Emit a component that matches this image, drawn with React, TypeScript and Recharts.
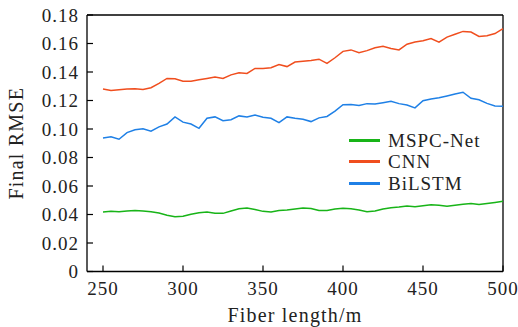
import React from 'react';
import { LineChart, Line, XAxis, YAxis, ReferenceLine } from 'recharts';

const fiberLength = [
  250, 255, 260, 265, 270, 275, 280, 285, 290, 295, 300, 305, 310, 315, 320, 325, 330,
  335, 340, 345, 350, 355, 360, 365, 370, 375, 380, 385, 390, 395, 400, 405, 410, 415,
  420, 425, 430, 435, 440, 445, 450, 455, 460, 465, 470, 475, 480, 485, 490, 495, 500,
];

const mspcNet = [
  0.0418, 0.0422, 0.042, 0.0425, 0.0428, 0.0425, 0.042, 0.041, 0.0395, 0.0385, 0.0388,
  0.0402, 0.0412, 0.0418, 0.0408, 0.0408, 0.0425, 0.044, 0.0445, 0.0435, 0.0422, 0.0418,
  0.0428, 0.0432, 0.0438, 0.0445, 0.0442, 0.0428, 0.0428, 0.0438, 0.0443, 0.044, 0.0432,
  0.042, 0.0425, 0.0438, 0.0447, 0.0452, 0.046, 0.0455, 0.0462, 0.0468, 0.0465, 0.0458,
  0.0465, 0.0472, 0.0478, 0.047, 0.0478, 0.0485, 0.0493,
];

const cnn = [
  0.128, 0.127, 0.1275, 0.128, 0.1282, 0.1278, 0.129, 0.132, 0.1355, 0.1352, 0.1335,
  0.1335, 0.1345, 0.1355, 0.1365, 0.1355, 0.138, 0.1395, 0.139, 0.1425, 0.1425, 0.143,
  0.1452, 0.1438, 0.147, 0.1475, 0.148, 0.149, 0.146, 0.15, 0.1545, 0.1555, 0.1535,
  0.155, 0.157, 0.158, 0.1565, 0.1555, 0.1595, 0.161, 0.162, 0.1635, 0.161, 0.1645,
  0.1665, 0.1685, 0.168, 0.165, 0.1655, 0.167, 0.1705,
];

const biLstm = [
  0.0937, 0.0945, 0.0928, 0.0975, 0.0995, 0.1002, 0.0985, 0.1015, 0.1035, 0.1085, 0.1048,
  0.1035, 0.1005, 0.1075, 0.1085, 0.1058, 0.1065, 0.1092, 0.1085, 0.1098, 0.1082, 0.1075,
  0.1045, 0.1085, 0.1075, 0.1068, 0.1052, 0.1078, 0.1088, 0.1125, 0.117, 0.1172, 0.1165,
  0.1178, 0.1175, 0.1185, 0.1195, 0.1178, 0.1168, 0.1148, 0.1198, 0.121, 0.122, 0.1232,
  0.1245, 0.1258, 0.1215, 0.1205, 0.118, 0.1162, 0.116,
];

const xTicks = [250, 300, 350, 400, 450, 500];
const yTicks = [0, 0.02, 0.04, 0.06, 0.08, 0.1, 0.12, 0.14, 0.16, 0.18];

const seriesInfo = [
  { key: 'MSPC-Net', color: '#18b418' },
  { key: 'CNN', color: '#f04e1e' },
  { key: 'BiLSTM', color: '#1f80e6' },
];

const data = fiberLength.map((len, i) => ({
  len,
  'MSPC-Net': mspcNet[i],
  CNN: cnn[i],
  BiLSTM: biLstm[i],
}));

const FONT = 'Liberation Serif';
const tickStyle = { fontFamily: FONT, fontSize: 19, letterSpacing: 1, fill: '#222' };

function YTick(props: any) {
  const { x, y, payload } = props;
  const v = payload.value;
  const label = v === 0 ? '0' : v.toFixed(2);
  return (
    <g>
      <line x1={x} x2={x + 6} y1={y} y2={y} stroke="#000" strokeWidth={1.2} />
      <text x={x - 8} y={y} dy="0.35em" textAnchor="end" fontFamily={FONT} fontSize={19} letterSpacing={1} fill="#222">
        {label}
      </text>
    </g>
  );
}

function XTick(props: any) {
  const { x, y, payload } = props;
  return (
    <g>
      <line x1={x} x2={x} y1={y} y2={y - 6} stroke="#000" strokeWidth={1.2} />
      <text x={x} y={y + 23} textAnchor="middle" fontFamily={FONT} fontSize={19} letterSpacing={1} fill="#222">
        {payload.value}
      </text>
    </g>
  );
}

function LegendBox() {
  return (
    <div
      style={{
        position: 'absolute',
        left: 349,
        top: 130,
        fontFamily: FONT,
        fontSize: 19,
        letterSpacing: 1,
        color: '#222',
        lineHeight: 1,
      }}
    >
      {seriesInfo.map((s) => (
        <div key={s.key} style={{ display: 'flex', alignItems: 'center', height: 21.3 }}>
          <div style={{ width: 31, height: 3, background: s.color, marginRight: 8 }} />
          <span>{s.key}</span>
        </div>
      ))}
    </div>
  );
}

export default function App() {
  return (
    <div style={{ position: 'absolute', left: 0, top: 0, width: 518, height: 327, background: '#fff', fontFamily: FONT }}>
      <LineChart
        width={518}
        height={327}
        data={data}
        margin={{ top: 15, right: 15, bottom: 0, left: 0 }}
        style={{ fontFamily: FONT }}
      >
        <XAxis
          dataKey="len"
          type="number"
          domain={[240, 500]}
          ticks={xTicks}
          tick={<XTick />}
          tickSize={0}
          tickMargin={0}
          tickLine={false}
          axisLine={{ stroke: '#000', strokeWidth: 1.3 }}
          height={55.5}
          label={{
            value: 'Fiber length/m',
            position: 'insideBottom',
            offset: 5,
            fontFamily: FONT,
            fontSize: 20,
            letterSpacing: 1.2,
            fill: '#222',
          }}
        />
        <YAxis
          type="number"
          domain={[0, 0.18]}
          ticks={yTicks}
          tick={<YTick />}
          tickSize={0}
          tickMargin={0}
          tickLine={false}
          axisLine={{ stroke: '#000', strokeWidth: 1.3 }}
          width={87}
          label={{
            value: 'Final RMSE',
            angle: -90,
            position: 'insideLeft',
            offset: 16,
            textAnchor: 'middle',
            fontFamily: FONT,
            fontSize: 20,
            letterSpacing: 1.2,
            fill: '#222',
          }}
        />
        <ReferenceLine y={0.18} stroke="#000" strokeWidth={1.3} />
        <ReferenceLine x={500} stroke="#000" strokeWidth={1.3} />
        {seriesInfo.map((s) => (
          <Line
            key={s.key}
            type="linear"
            dataKey={s.key}
            stroke={s.color}
            strokeWidth={1.5}
            dot={false}
            isAnimationActive={false}
          />
        ))}
      </LineChart>
      <LegendBox />
    </div>
  );
}
